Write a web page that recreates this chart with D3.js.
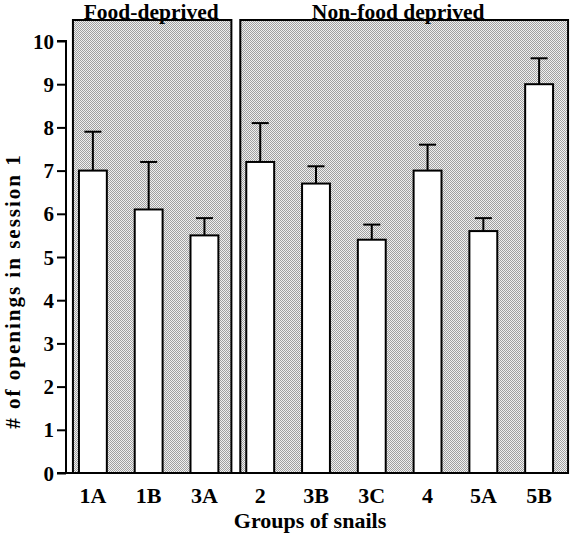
<!DOCTYPE html>
<html><head><meta charset="utf-8">
<script src="https://cdn.jsdelivr.net/npm/d3@7"></script>
<style>body{margin:0;background:#fff}svg{display:block}text{font-family:"Liberation Serif","Times New Roman",serif;font-weight:bold;fill:#000}</style>
</head><body><svg id="c" width="576" height="543"></svg>
<script>
const groups = ["1A","1B","3A","2","3B","3C","4","5A","5B"];
const means = [7.0, 6.1, 5.5, 7.2, 6.7, 5.4, 7.0, 5.6, 9.0];
const errors = [0.9, 1.1, 0.4, 0.9, 0.4, 0.35, 0.6, 0.3, 0.6];
const yTicks = [0,1,2,3,4,5,6,7,8,9,10];
const panelNames = ["Food-deprived","Non-food deprived"];
const panelGroups = [["1A","1B","3A"],["2","3B","3C","4","5A","5B"]];

const svg = d3.select("#c");
const defs = svg.append("defs");
const pat = defs.append("pattern").attr("id","dots").attr("width",2).attr("height",2).attr("patternUnits","userSpaceOnUse");
pat.append("rect").attr("width",2).attr("height",2).attr("fill","#f0f0f0");
pat.append("rect").attr("x",0).attr("y",0).attr("width",1).attr("height",1).attr("fill","#a0a0a0");
pat.append("rect").attr("x",1).attr("y",1).attr("width",1).attr("height",1).attr("fill","#a0a0a0");

const x = d3.scaleBand().domain(groups).range([65,567]).paddingInner(0.5).paddingOuter(0.25);
const y = d3.scaleLinear().domain([0,10]).range([473,41]);

// panels
panelGroups.forEach((pg,i)=>{
  const left = x(pg[0]) - 6;
  const right = x(pg[pg.length-1]) + x.bandwidth() + (i===0 ? 13 : 15);
  const top = y(10) - 21;
  svg.append("rect").attr("x",left).attr("y",top).attr("width",right-left).attr("height",y(0)-top)
    .attr("fill","url(#dots)").attr("stroke","#000").attr("stroke-width",2);
  svg.append("text").attr("x",(left+right)/2 - (i===0 ? 1 : 6)).attr("y",19).attr("text-anchor","middle")
    .style("font-size","21.5px").text(panelNames[i]);
});

// error bars
const g = svg.append("g");
groups.forEach((k,i)=>{
  const cx = x(k)+x.bandwidth()/2;
  g.append("line").attr("x1",cx).attr("x2",cx).attr("y1",y(means[i])).attr("y2",y(means[i]+errors[i]))
    .attr("stroke","#000").attr("stroke-width",2);
  g.append("line").attr("x1",cx-8.5).attr("x2",cx+8.5).attr("y1",y(means[i]+errors[i])).attr("y2",y(means[i]+errors[i]))
    .attr("stroke","#000").attr("stroke-width",2);
});
// bars
g.selectAll("rect.bar").data(groups).join("rect").attr("class","bar")
  .attr("x",d=>x(d)).attr("width",x.bandwidth())
  .attr("y",(d,i)=>y(means[i])).attr("height",(d,i)=>y(0)-y(means[i]))
  .attr("fill","#fff").attr("stroke","#000").attr("stroke-width",2);

// y axis
const ya = svg.append("g").attr("transform","translate(66,0)")
  .call(d3.axisLeft(y).tickValues(yTicks).tickSize(9).tickPadding(3).tickFormat(d3.format("d")));
ya.select(".domain").attr("stroke","#000").attr("stroke-width",2).attr("d",`M-9,${y(10)}H0V${y(0)}H-9`);
ya.selectAll(".tick line").attr("stroke-width",2);
ya.selectAll(".tick text").style("font-size","21px").attr("dy","0.34em");

// baseline
svg.append("line").attr("x1",66).attr("x2",568).attr("y1",y(0)).attr("y2",y(0)).attr("stroke","#000").attr("stroke-width",2);

// x axis labels
const xa = svg.append("g").attr("transform",`translate(0,${y(0)})`)
  .call(d3.axisBottom(x).tickSize(0).tickPadding(14));
xa.select(".domain").remove();
xa.selectAll(".tick text").style("font-size","22px");

svg.append("text").attr("x",310).attr("y",528).attr("text-anchor","middle").style("font-size","22px").text("Groups of snails");
svg.append("text").attr("transform","translate(19.5,291) rotate(-90)").attr("text-anchor","middle")
  .style("font-size","21px").style("letter-spacing","2px").text("# of openings in session 1");
</script></body></html>
